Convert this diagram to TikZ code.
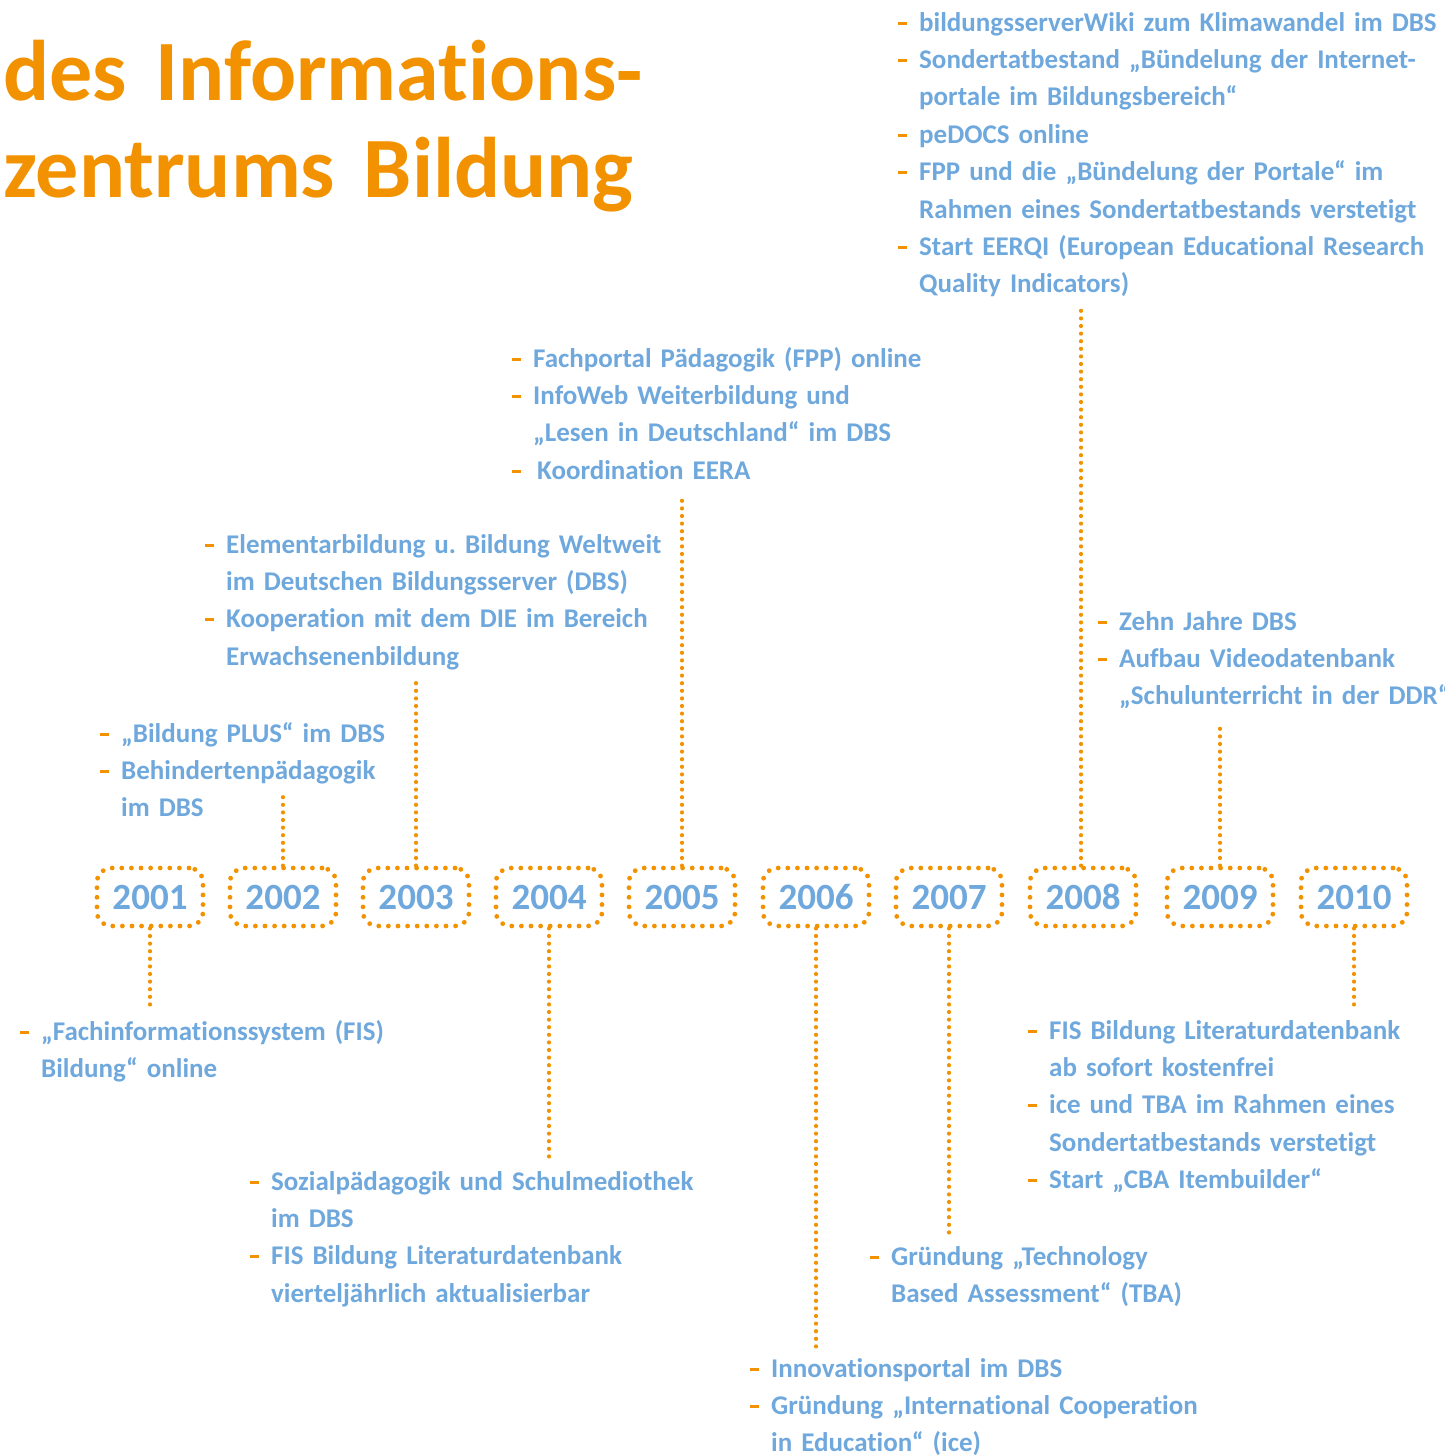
\documentclass[tikz,border=0pt]{standalone}
\usepackage{fontspec}
\setmainfont{Carlito}[Ligatures={NoCommon}]
\newfontfamily\bodyfam{Carlito}[BoldFont={* Bold},Ligatures={NoCommon}]
\definecolor{ora}{HTML}{F39200}
\definecolor{blu}{HTML}{6FA8DC}
\newcommand\itm{\makebox[21pt][l]{\color{ora}\rule[6.5pt]{9pt}{3pt}}}
\newcommand\ind{\hspace*{21pt}}
\frenchspacing
\begin{document}
\begin{tikzpicture}[x=1pt,y=-1pt,
  yearbox/.style={draw=ora, line width=4.8pt, dash pattern=on 0pt off 9.6pt, line cap=round,
    rounded corners=14pt, minimum width=106pt, minimum height=58pt, inner sep=0pt,
    text=blu, font=\bodyfam\bfseries\fontsize{37}{40}\selectfont},
  conn/.style={draw=ora, line width=4.2pt, dash pattern=on 0pt off 7.6pt, line cap=round},
  block/.style={anchor=base west, inner sep=0pt, text width=600pt, align=left,
    text=blu, font=\bodyfam\bfseries\fontsize{27}{37.4}\selectfont},
  title/.style={anchor=base west, inner sep=0pt, text width=800pt, align=left,
    text=ora, font=\bfseries\fontsize{86}{97}\selectfont}]
\useasboundingbox (0,0) rectangle (1445,1456);

\node[title] (ttl) at (3,100) {des Informations-\\zentrums Bildung};

\foreach \yr/\xx in {2001/150,2002/283,2003/416,2004/549,2005/682,2006/816,2007/949,2008/1083,2009/1220,2010/1354}
  \node[yearbox] (y\yr) at (\xx,897) {\yr};

\coordinate (c2001) at (150,1010);
\coordinate (c2002) at (283,795);
\coordinate (c2003) at (416,682);
\coordinate (c2004) at (549,1160);
\coordinate (c2005) at (682,497);
\coordinate (c2006) at (816,1348);
\coordinate (c2007) at (949,1235);
\coordinate (c2008) at (1081,308);
\coordinate (c2009) at (1220,725);
\coordinate (c2010) at (1354,1010);

\draw[conn] (y2001.south) -- (c2001);
\draw[conn] (y2002.north) -- (c2002);
\draw[conn] (y2003.north) -- (c2003);
\draw[conn] (y2004.south) -- (c2004);
\draw[conn] (y2005.north) -- (c2005);
\draw[conn] (y2006.south) -- (c2006);
\draw[conn] (y2007.south) -- (c2007);
\draw[conn] (y2008.north -| c2008) -- (c2008);
\draw[conn] (y2009.north) -- (c2009);
\draw[conn] (y2010.south) -- (c2010);

\node[block] (b2008) at (898,31) {\itm bildungsserverWiki zum Klimawandel im DBS\\
\itm Sondertatbestand „Bündelung der Internet-\\
\ind portale im Bildungsbereich“\\
\itm peDOCS online\\
\itm FPP und die „Bündelung der Portale“ im\\
\ind Rahmen eines Sondertatbestands verstetigt\\
\itm Start EERQI (European Educational Research\\
\ind Quality Indicators)};

\node[block] (b2005) at (512,367) {\itm Fachportal Pädagogik (FPP) online\\
\itm InfoWeb Weiterbildung und\\
\ind „Lesen in Deutschland“ im DBS\\
\itm\hspace{4pt}Koordination EERA};

\node[block] (b2003) at (205,553) {\itm Elementarbildung u. Bildung Weltweit\\
\ind im Deutschen Bildungsserver (DBS)\\
\itm Kooperation mit dem DIE im Bereich\\
\ind Erwachsenenbildung};

\node[block] (b2002) at (100,742) {\itm „Bildung PLUS“ im DBS\\
\itm Behindertenpädagogik\\
\ind im DBS};

\node[block] (b2009) at (1098,630) {\itm Zehn Jahre DBS\\
\itm Aufbau Videodatenbank\\
\ind „Schulunterricht in der DDR“};

\node[block] (b2001) at (20,1040) {\itm „Fachinformationssystem (FIS)\\
\ind Bildung“ online};

\node[block] (b2004) at (250,1190) {\itm Sozialpädagogik und Schulmediothek\\
\ind im DBS\\
\itm FIS Bildung Literaturdatenbank\\
\ind vierteljährlich aktualisierbar};

\node[block] (b2010) at (1028,1039) {\itm FIS Bildung Literaturdatenbank\\
\ind ab sofort kostenfrei\\
\itm ice und TBA im Rahmen eines\\
\ind Sondertatbestands verstetigt\\
\itm Start „CBA Itembuilder“};

\node[block] (b2007) at (870,1265) {\itm Gründung „Technology\\
\ind Based Assessment“ (TBA)};

\node[block] (b2006) at (750,1377) {\itm Innovationsportal im DBS\\
\itm Gründung „International Cooperation\\
\ind in Education“ (ice)};
\end{tikzpicture}
\end{document}
